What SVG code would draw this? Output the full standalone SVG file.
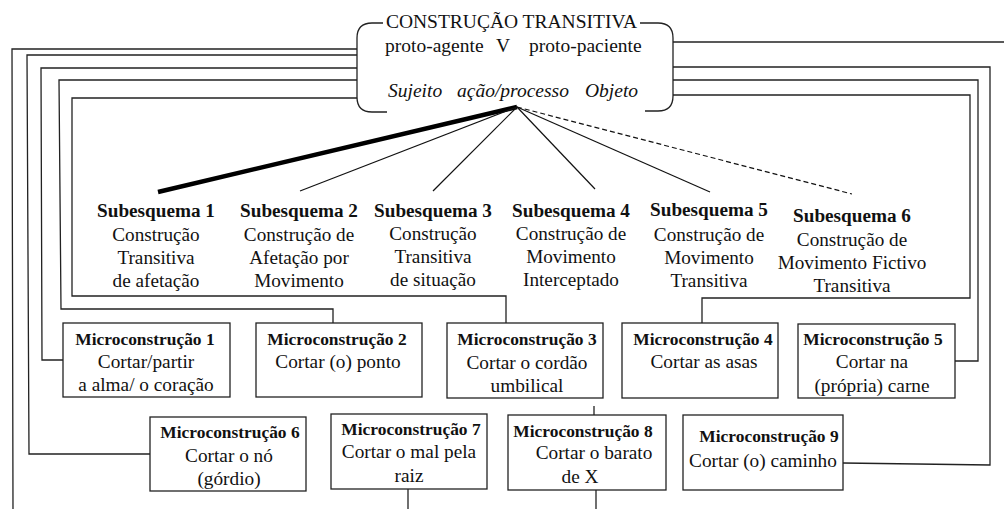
<svg xmlns="http://www.w3.org/2000/svg" width="1004" height="509" viewBox="0 0 1004 509">
<style>
text{font-family:"Liberation Serif","Times New Roman",serif;fill:#111}
.t{font-size:19.5px}
.it{font-size:19.5px;font-style:italic}
.sb{font-size:19.2px;font-weight:bold;text-anchor:middle}
.sr{font-size:19.2px;text-anchor:middle}
.mb{font-size:17.4px;font-weight:bold;text-anchor:middle}
.mr{font-size:19.3px;text-anchor:middle}
.box{fill:#fff;stroke:#222;stroke-width:1.3}
.c{fill:none;stroke:#222;stroke-width:1.3}
.f{fill:none;stroke:#111;stroke-width:1.2}
</style>
<g id="connectors">
<polyline class="c" points="357,49 12,49 13,509"/>
<polyline class="c" points="357,55 27,55 29,454 150,454"/>
<polyline class="c" points="357,68 41,68 42,360 63,360"/>
<polyline class="c" points="357,80 59,80 61,309 333,309 333,323"/>
<polyline class="c" points="357,98 72,98 72,296 506,296 506,323"/>
<polyline class="c" points="673,42 1004,42"/>
<polyline class="c" points="673,67 990,67 990,465 843,463"/>
<polyline class="c" points="673,80 978,80 978,361 955,361"/>
<polyline class="c" points="673,95 970,95 970,298 702,298 702,323"/>
<polyline class="c" points="594,406 594,415"/>
<polyline class="c" points="408,489 408,509"/>
<polyline class="c" points="596,490 596,509"/>
<line x1="517" y1="107" x2="158" y2="192" stroke="#000" stroke-width="4.5"/>
<line class="f" x1="517" y1="107" x2="300" y2="191"/>
<line class="f" x1="517" y1="107" x2="433" y2="191"/>
<line class="f" x1="517" y1="107" x2="595" y2="189"/>
<line class="f" x1="517" y1="107" x2="710" y2="192"/>
<line class="f" x1="517" y1="107" x2="852" y2="194" stroke-dasharray="5,3"/>
</g>
<g id="top">
<path class="c" d="M383,23 H372 Q357,23 357,38 V97 Q357,112 372,112 H387"/>
<path class="c" d="M640,23 H658 Q673,23 673,38 V96 Q673,111 658,111 H645"/>
<text class="t" x="511.5" y="28" text-anchor="middle">CONSTRUÇÃO TRANSITIVA</text>
<text class="t" x="385" y="52">proto-agente</text>
<text class="t" x="503" y="52" text-anchor="middle">V</text>
<text class="t" x="529" y="52">proto-paciente</text>
<text class="it" x="388" y="97">Sujeito</text>
<text class="it" x="457" y="97">ação/processo</text>
<text class="it" x="585" y="97">Objeto</text>
</g>
<g id="sub1">
<text class="sb" x="156" y="217">Subesquema 1</text>
<text class="sr" x="156" y="241">Construção</text>
<text class="sr" x="156" y="264">Transitiva</text>
<text class="sr" x="156" y="287">de afetação</text>
</g>
<g id="sub2">
<text class="sb" x="299" y="217">Subesquema 2</text>
<text class="sr" x="299" y="241">Construção de</text>
<text class="sr" x="299" y="264">Afetação por</text>
<text class="sr" x="299" y="287">Movimento</text>
</g>
<g id="sub3">
<text class="sb" x="433" y="217">Subesquema 3</text>
<text class="sr" x="433" y="240">Construção</text>
<text class="sr" x="433" y="263">Transitiva</text>
<text class="sr" x="433" y="286">de situação</text>
</g>
<g id="sub4">
<text class="sb" x="571" y="217">Subesquema 4</text>
<text class="sr" x="571" y="240">Construção de</text>
<text class="sr" x="571" y="263">Movimento</text>
<text class="sr" x="571" y="286">Interceptado</text>
</g>
<g id="sub5">
<text class="sb" x="709" y="216">Subesquema 5</text>
<text class="sr" x="709" y="241">Construção de</text>
<text class="sr" x="709" y="264">Movimento</text>
<text class="sr" x="709" y="287">Transitiva</text>
</g>
<g id="sub6">
<text class="sb" x="852" y="222">Subesquema 6</text>
<text class="sr" x="852" y="246">Construção de</text>
<text class="sr" x="852" y="269">Movimento Fictivo</text>
<text class="sr" x="852" y="292">Transitiva</text>
</g>
<g id="micro1">
<rect class="box" x="63" y="323" width="167" height="74"/>
<text class="mb" x="145" y="345">Microconstrução 1</text>
<text class="mr" x="146" y="368">Cortar/partir</text>
<text class="mr" x="146" y="391">a alma/ o coração</text>
</g>
<g id="micro2">
<rect class="box" x="256" y="323" width="166" height="74"/>
<text class="mb" x="337" y="345">Microconstrução 2</text>
<text class="mr" x="338" y="368">Cortar (o) ponto</text>
</g>
<g id="micro3">
<rect class="box" x="447" y="323" width="156" height="75"/>
<text class="mb" x="527" y="345">Microconstrução 3</text>
<text class="mr" x="527" y="369">Cortar o cordão</text>
<text class="mr" x="527" y="392">umbilical</text>
</g>
<g id="micro4">
<rect class="box" x="622" y="323" width="156" height="75"/>
<text class="mb" x="703" y="345">Microconstrução 4</text>
<text class="mr" x="704" y="368">Cortar as asas</text>
</g>
<g id="micro5">
<rect class="box" x="798" y="324" width="157" height="74"/>
<text class="mb" x="873" y="345">Microconstrução 5</text>
<text class="mr" x="872" y="368">Cortar na</text>
<text class="mr" x="872" y="392">(própria) carne</text>
</g>
<g id="micro6">
<rect class="box" x="150" y="417" width="156" height="74"/>
<text class="mb" x="230" y="438">Microconstrução 6</text>
<text class="mr" x="229" y="462">Cortar o nó</text>
<text class="mr" x="229" y="485">(górdio)</text>
</g>
<g id="micro7">
<rect class="box" x="331" y="414" width="156" height="75"/>
<text class="mb" x="411" y="435">Microconstrução 7</text>
<text class="mr" x="409" y="458">Cortar o mal pela</text>
<text class="mr" x="409" y="482">raiz</text>
</g>
<g id="micro8">
<rect class="box" x="508" y="415" width="158" height="75"/>
<text class="mb" x="583" y="437">Microconstrução 8</text>
<text class="mr" x="594" y="459">Cortar o barato</text>
<text class="mr" x="580" y="483">de X</text>
</g>
<g id="micro9">
<rect class="box" x="683" y="415" width="160" height="75"/>
<text class="mb" x="769" y="442">Microconstrução 9</text>
<text class="mr" x="763" y="467">Cortar (o) caminho</text>
</g>
</svg>
